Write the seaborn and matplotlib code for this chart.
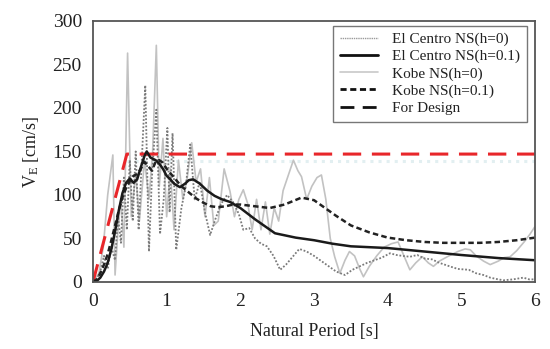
import matplotlib
matplotlib.use("Agg")
import matplotlib.pyplot as plt
import seaborn as sns
from matplotlib.lines import Line2D

# ---- data ----
ec0_x = [0, 0.05, 0.1, 0.15, 0.2, 0.25, 0.3, 0.34, 0.38, 0.42, 0.46, 0.5, 0.54, 0.58, 0.62,
         0.66, 0.71, 0.76, 0.8, 0.86, 0.91, 0.96, 1.01, 1.04, 1.08, 1.13, 1.2, 1.26, 1.32, 1.38,
         1.45, 1.52, 1.59, 1.66, 1.74, 1.82, 1.9, 1.98, 2.04, 2.12, 2.2, 2.28, 2.36, 2.45, 2.54,
         2.62, 2.7, 2.8, 2.9, 3.0, 3.1, 3.2, 3.3, 3.42, 3.52, 3.62, 3.72, 3.82, 3.92, 4.03,
         4.12, 4.2, 4.3, 4.4, 4.5, 4.6, 4.7, 4.84, 4.95, 5.1, 5.2, 5.3, 5.39, 5.5, 5.57,
         5.7, 5.84, 5.92, 6.0]
ec0_y = [0, 3, 12, 30, 15, 40, 25, 75, 45, 120, 60, 140, 70, 150, 60,
         135, 226, 35, 120, 198, 55, 95, 177, 80, 171, 37, 85, 110, 158, 95,
         115, 80, 54, 72, 90, 100, 92, 78, 60, 62, 50, 44, 41, 30, 14,
         20, 28, 38, 35, 30, 24, 18, 12, 8, 14, 18, 22, 25, 28, 33,
         31, 30, 29, 31, 27, 26, 22, 18, 15, 14, 10, 8, 5, 3, 2,
         3, 5, 3, 3]

ec1_x = [0, 0.05, 0.1, 0.15, 0.2, 0.25, 0.3, 0.35, 0.4, 0.45, 0.5, 0.55, 0.6, 0.65, 0.7,
         0.73, 0.78, 0.85, 0.9, 0.95, 1.0, 1.05, 1.1, 1.18, 1.25, 1.3, 1.36, 1.45, 1.55, 1.65,
         1.75, 1.86, 2.0, 2.2, 2.47, 2.75, 3.0, 3.25, 3.5, 4.0, 4.5, 5.0, 5.5, 6.0]
ec1_y = [0, 1, 5, 12, 22, 38, 58, 82, 102, 114, 119, 114, 118, 132, 145,
         150, 143, 140, 136, 130, 122, 118, 113, 109, 113, 117, 118, 113, 105, 99,
         95, 92, 85, 72, 56, 51, 48, 44, 41, 39, 35, 31, 27.5, 25]

kb0_x = [0, 0.08, 0.14, 0.2, 0.27, 0.3, 0.34, 0.38, 0.42, 0.47, 0.52, 0.58, 0.63, 0.7, 0.76,
         0.81, 0.86, 0.9, 0.95, 1.0, 1.05, 1.1, 1.16, 1.22, 1.28, 1.34, 1.4, 1.46, 1.52, 1.58,
         1.64, 1.7, 1.78, 1.86, 1.92, 1.98, 2.04, 2.1, 2.16, 2.22, 2.28, 2.34, 2.4, 2.46, 2.52,
         2.58, 2.64, 2.72, 2.78, 2.83, 2.9, 2.97, 3.04, 3.1, 3.16, 3.22, 3.28, 3.35, 3.42, 3.48,
         3.55, 3.62, 3.67, 3.75, 3.85, 3.95, 4.05, 4.14, 4.22, 4.3, 4.38, 4.47, 4.55, 4.62, 4.7,
         4.83, 4.95, 5.05, 5.12, 5.2, 5.3, 5.39, 5.5, 5.58, 5.66, 5.75, 5.85, 5.93, 6.0]
kb0_y = [0, 10, 40, 100, 146, 8, 60, 95, 40, 263, 75, 125, 70, 140, 95,
         150, 272, 110, 165, 75, 130, 60, 140, 95, 120, 160, 115, 130, 75, 120,
         65, 70, 130, 104, 75, 95, 106, 90, 60, 95, 60, 92, 55, 85, 70,
         105, 120, 140, 128, 121, 95, 110, 120, 123, 95, 50, 29, 10, 25, 35,
         30, 15, 6, 18, 30, 40, 44, 46, 30, 14, 22, 29, 22, 18, 24,
         30, 35, 38, 37, 30, 24, 20, 24, 28, 29, 36, 46, 55, 64]

kb1_x = [0, 0.05, 0.1, 0.15, 0.2, 0.25, 0.3, 0.35, 0.4, 0.45, 0.5, 0.55, 0.6, 0.65, 0.7,
         0.75, 0.8, 0.85, 0.9, 0.95, 1.0, 1.1, 1.2, 1.3, 1.4, 1.5, 1.6, 1.7, 1.8, 1.9,
         2.0, 2.2, 2.4, 2.6, 2.83, 3.0, 3.15, 3.3, 3.5, 3.75, 4.0, 4.25, 4.5, 4.75, 5.0,
         5.25, 5.5, 5.75, 6.0]
kb1_y = [0, 3, 10, 20, 32, 48, 65, 82, 97, 108, 116, 122, 124, 130, 138,
         133, 128, 138, 140, 137, 130, 120, 110, 103, 96, 91, 87, 86, 87, 89,
         89, 87, 85, 89, 97, 94, 85, 76, 65, 57, 51, 48, 46, 45, 45,
         45, 46, 48, 51]

design_x = [0, 0.46, 6.0]
design_y = [0, 147, 147]
band_x = [0.46, 6.0]
band_y = [139, 139]

labels = ["El Centro NS(h=0)", "El Centro NS(h=0.1)", "Kobe NS(h=0)",
          "Kobe NS(h=0.1)", "For Design"]
x_ticks = [0, 1, 2, 3, 4, 5, 6]
y_ticks = [0, 50, 100, 150, 200, 250, 300]

# ---- style ----
sns.set_style("white")
plt.rcParams['font.family'] = ['Liberation Serif', 'DejaVu Serif']
plt.rcParams['mathtext.fontset'] = 'custom'
plt.rcParams['mathtext.rm'] = 'Liberation Serif'
plt.rcParams['mathtext.it'] = 'Liberation Serif'

fig = plt.figure(figsize=(5.5, 3.49), dpi=100)
ax = fig.add_axes([0.169, 0.192, 0.804, 0.748])

sns.lineplot(x=band_x, y=band_y, ax=ax, color="#e2eff1", lw=2.2, linestyle=":",
             sort=False, estimator=None)
sns.lineplot(x=kb0_x, y=kb0_y, ax=ax, color="#c2c2c2", lw=1.2,
             sort=False, estimator=None)
sns.lineplot(x=ec0_x, y=ec0_y, ax=ax, color="#7a7a7a", lw=1.3, linestyle=(0, (1, 1)),
             sort=False, estimator=None)
sns.lineplot(x=design_x, y=design_y, ax=ax, color="#e8262a", lw=2.2,
             linestyle=(0, (6, 3.5)), sort=False, estimator=None)
sns.lineplot(x=kb1_x, y=kb1_y, ax=ax, color="#222222", lw=1.8,
             linestyle=(0, (2.2, 1.3)), sort=False, estimator=None)
sns.lineplot(x=ec1_x, y=ec1_y, ax=ax, color="#1a1a1a", lw=1.8,
             sort=False, estimator=None)

ax.set_xlim(0, 6)
ax.set_ylim(0, 300)
ax.set_xticks(x_ticks)
ax.set_yticks(y_ticks)
ax.tick_params(axis="both", labelsize=14, length=3, width=0.8, color="#777777",
               labelcolor="#222222", direction="out", pad=5)
for s in ax.spines.values():
    s.set_color("#555555")
    s.set_linewidth(1.3)

ax.set_xlabel("Natural Period [s]", fontsize=13, color="#222222", labelpad=9)
ax.set_ylabel(r"V$_\mathrm{E}$ [cm/s]", fontsize=13, color="#222222", labelpad=8)

handles = [
    Line2D([], [], color="#9a9a9a", lw=1.0, linestyle=(0, (1, 0.6))),
    Line2D([], [], color="#111111", lw=2.0),
    Line2D([], [], color="#c8c8c8", lw=1.2),
    Line2D([], [], color="#111111", lw=2.0, linestyle=(0, (2.2, 1.3))),
    Line2D([], [], color="#111111", lw=2.0, linestyle=(0, (5, 3))),
]
leg = ax.legend(handles, labels, loc="upper right", bbox_to_anchor=(0.991, 1.0),
                fontsize=11, frameon=True, fancybox=False, edgecolor="#555555",
                handlelength=2.5, handletextpad=0.9, labelspacing=0.22,
                borderpad=0.45, borderaxespad=0.3)
leg.get_frame().set_linewidth(1.0)
for t in leg.get_texts():
    t.set_color("#222222")

fig.savefig("out.png", dpi=100)
